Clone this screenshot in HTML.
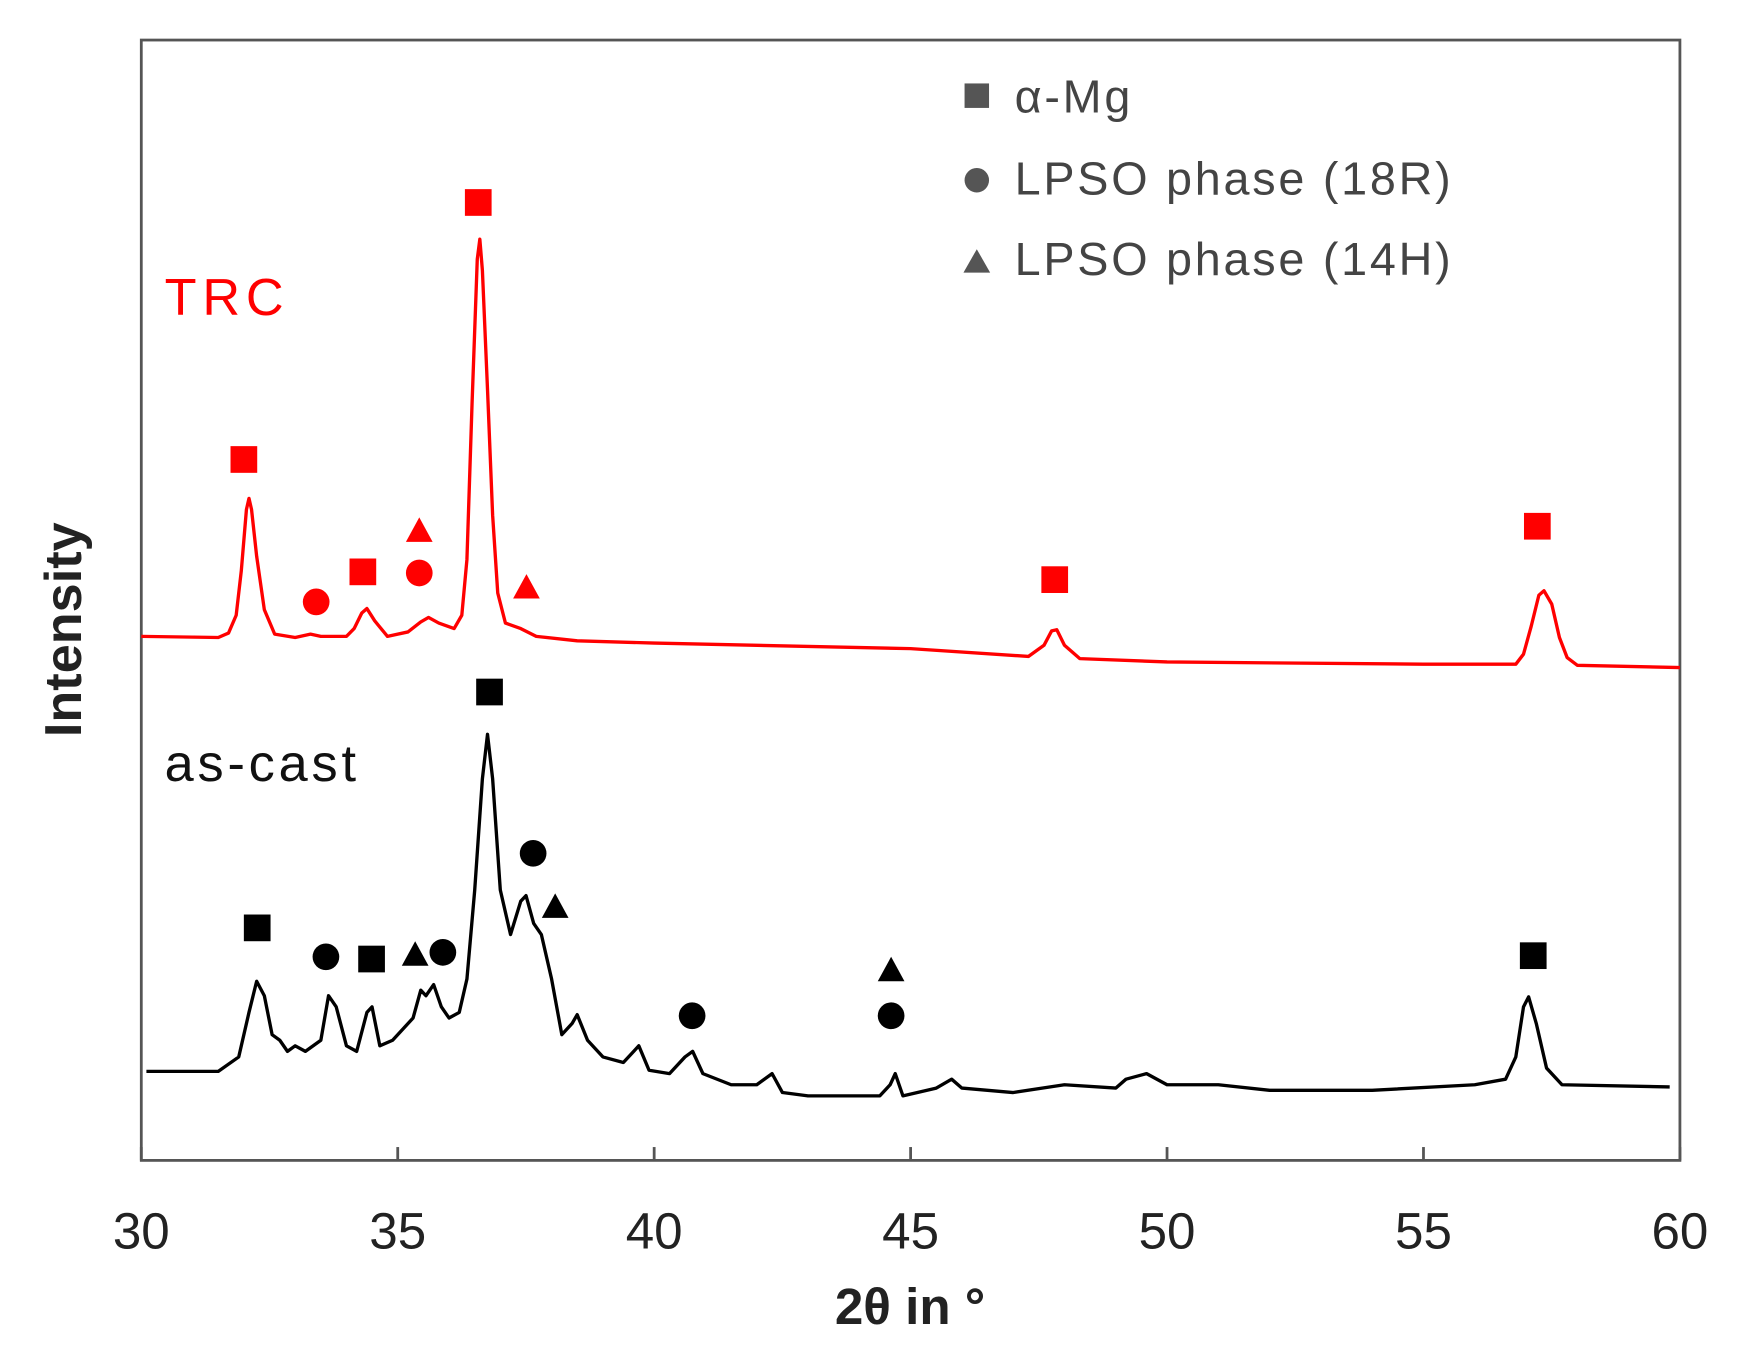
<!DOCTYPE html>
<html><head><meta charset="utf-8"><style>html,body{margin:0;padding:0;background:#fff}svg{display:block}</style></head>
<body>
<svg id="chart" width="1744" height="1368" viewBox="0 0 1567.6 1229.6" preserveAspectRatio="none" xmlns="http://www.w3.org/2000/svg" font-family="Liberation Sans, sans-serif">
<rect x="127" y="36" width="1383" height="1007" fill="none" stroke="#555" stroke-width="2.5"/>
<g id="ticks"></g>
<g id="series"></g>
<g id="markers"></g>
<text x="148" y="283" font-size="47" fill="#f00" textLength="107">TRC</text>
<text x="148" y="702" font-size="47" fill="#111" textLength="172">as-cast</text>
<g fill="#444" font-size="42">
<rect x="867" y="75" width="22" height="22" fill="#555"/>
<text x="912" y="101" textLength="104">α-Mg</text>
<circle cx="878" cy="162" r="11" fill="#555"/>
<text x="912" y="175" textLength="392">LPSO phase (18R)</text>
<polygon points="866,245 890,245 878,224" fill="#555"/>
<text x="912" y="247" textLength="392">LPSO phase (14H)</text>
</g>
<text x="818" y="1190" font-size="46" font-weight="bold" text-anchor="middle" fill="#222">2θ in °</text>
<text transform="translate(73,566) rotate(-90)" font-size="47" font-weight="bold" text-anchor="middle" fill="#222">Intensity</text>
</svg>
<script>
const xTicks = [30, 35, 40, 45, 50, 55, 60];
const trcTheta = [30,31.5,31.7,31.85,31.95,32.05,32.1,32.15,32.25,32.4,32.6,33,33.3,33.5,34,34.15,34.3,34.4,34.55,34.8,35.2,35.45,35.6,35.8,36.1,36.25,36.35,36.45,36.55,36.6,36.65,36.75,36.85,36.95,37.1,37.4,37.7,38.5,40,45,47.3,47.6,47.75,47.85,48,48.3,50,55,56.8,56.95,57.1,57.25,57.35,57.5,57.65,57.8,58,60];
const trcY = [471,470,474,490,530,585,595,585,543,495,473,470,473,471,471,478,492,496,485,471,475,484,488,483,478,490,540,680,810,828,800,693,580,510,483,478,471,467,465,460,453,463,476,477,463,451,448,446,446,455,480,508,512,500,470,452,445,443];
const castTheta = [30.1,31.5,31.9,32.1,32.25,32.4,32.55,32.7,32.85,33,33.2,33.5,33.65,33.8,34,34.2,34.4,34.5,34.65,34.9,35.1,35.3,35.45,35.55,35.7,35.85,36,36.2,36.35,36.5,36.65,36.75,36.85,37,37.2,37.4,37.5,37.65,37.8,38,38.2,38.4,38.5,38.7,39,39.4,39.6,39.7,39.9,40.3,40.6,40.75,40.95,41.5,42,42.3,42.5,43,44,44.4,44.6,44.7,44.85,45.5,45.8,46,47,48,49,49.2,49.6,50,51,52,54,56,56.6,56.8,56.95,57.05,57.2,57.4,57.7,59.8];
const castY = [80,80,93,133,161,148,113,108,98,103,98,108,148,138,103,98,133,138,103,108,118,128,153,148,158,138,128,133,163,243,343,383,343,243,203,233,238,213,203,163,113,123,131,108,93,88,98,103,81,78,93,98,78,68,68,78,61,58,58,58,68,78,58,65,73,65,61,68,65,73,78,68,68,63,63,68,73,93,138,147,123,83,68,66];
const markerTheta = [32.0,34.32,36.57,47.81,57.22, 33.41,35.42, 35.42,37.51, 32.26,34.49,36.79,57.14, 33.6,35.88,37.64,40.74,44.62, 35.34,38.07,44.62];
const markerY = [630,529,861,522,570, 502,528, 566,515, 209,181,421,184, 183,187,276,130,130, 185,228,171];
const markerShape = ['s','s','s','s','s','c','c','t','t','s','s','s','s','c','c','c','c','c','t','t','t'];
const markerSeries = ['trc','trc','trc','trc','trc','trc','trc','trc','trc','cast','cast','cast','cast','cast','cast','cast','cast','cast','cast','cast','cast'];

const NS = 'http://www.w3.org/2000/svg';
const X0 = 127, X1 = 1510, YB = 1043;
function xs(t){ return X0 + (t - 30) / 30 * (X1 - X0); }
function ys(v){ return YB - v; }

const tg = document.getElementById('ticks');
xTicks.forEach(t => {
  const ln = document.createElementNS(NS,'line');
  
  
  ln.setAttribute('x1', xs(t)); ln.setAttribute('x2', xs(t));
  ln.setAttribute('y1', YB); ln.setAttribute('y2', YB - 12);
  ln.setAttribute('stroke', '#555'); ln.setAttribute('stroke-width', '2.5');
  tg.appendChild(ln);
  const tx = document.createElementNS(NS,'text');
  
  
  tx.setAttribute('x', xs(t)); tx.setAttribute('y', 1122);
  tx.setAttribute('font-size', '46'); tx.setAttribute('text-anchor', 'middle'); tx.setAttribute('fill', '#222');
  tx.textContent = t;
  tg.appendChild(tx);
});

const sg = document.getElementById('series');
function line(th, v, col, name){
  const p = document.createElementNS(NS,'polyline');
  
  
  p.setAttribute('points', th.map((t,i) => xs(t).toFixed(1) + ',' + ys(v[i]).toFixed(1)).join(' '));
  p.setAttribute('fill', 'none'); p.setAttribute('stroke', col); p.setAttribute('stroke-width', '3');
  p.setAttribute('stroke-linejoin', 'round');
  sg.appendChild(p);
}
line(trcTheta, trcY, '#f00', 'trc-line');
line(castTheta, castY, '#000', 'as-cast-line');

const mg = document.getElementById('markers');
markerTheta.forEach((t,i) => {
  const cx = xs(t), cy = ys(markerY[i]);
  const col = markerSeries[i] === 'trc' ? '#f00' : '#000';
  let el;
  if (markerShape[i] === 's') {
    el = document.createElementNS(NS,'rect');
    el.setAttribute('x', cx - 12); el.setAttribute('y', cy - 12);
    el.setAttribute('width', 24); el.setAttribute('height', 24);
  } else if (markerShape[i] === 'c') {
    el = document.createElementNS(NS,'circle');
    el.setAttribute('cx', cx); el.setAttribute('cy', cy); el.setAttribute('r', 12);
  } else {
    el = document.createElementNS(NS,'polygon');
    el.setAttribute('points', (cx-12)+','+(cy+10)+' '+(cx+12)+','+(cy+10)+' '+cx+','+(cy-12));
  }
  
  
  el.setAttribute('fill', col);
  mg.appendChild(el);
});
</script>
</body></html>
